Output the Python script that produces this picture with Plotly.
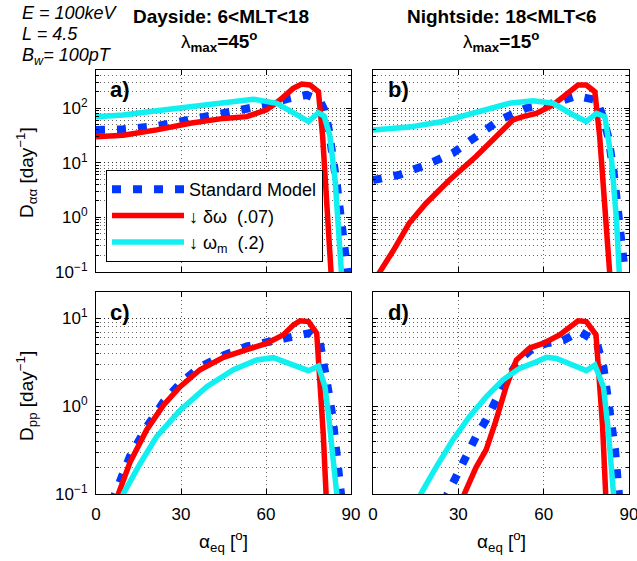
import plotly.graph_objects as go

W, H = 637, 561
FONT = "Liberation Sans, Arial, Helvetica, sans-serif"

# ---------------- data (alpha_eq in degrees, diffusion coefficient in 1/day) -------------
# Panel a) Dayside D_aa
alpha_a_std = [0, 9.6, 21.4, 33.2, 45, 53.2, 60.2, 68.5, 74.4, 79, 80.5, 82, 83.5, 85, 86.5, 88, 89.5]
Daa_a_std   = [40, 41, 47, 61, 80, 100, 115, 152, 175, 140, 95, 45, 15, 4, 0.9, 0.22, 0.05]
alpha_a_dw  = [0, 9.6, 21.4, 33.2, 45, 53.2, 60.2, 64.9, 69.6, 72.6, 75.5, 78.5, 80.0, 81.4, 82.8, 83.3]
Daa_a_dw    = [30, 32, 40, 53, 65, 70, 93, 141, 231, 277, 266, 200, 30, 1.8, 0.095, 0.05]
alpha_a_wm  = [0, 9.6, 21.4, 33.2, 45, 55.5, 63.8, 70.8, 75, 78.5, 80.5, 82.5, 84.4, 85.6, 86.4, 87]
Daa_a_wm    = [70, 75, 90, 107, 131, 146, 123, 75, 57, 82, 72, 32, 4.8, 0.59, 0.095, 0.05]

# Panel b) Nightside D_aa
alpha_b_std = [0, 9.2, 18.6, 28, 36.2, 44.5, 53.9, 63.3, 71.5, 78.6, 80.4, 82.7, 84.5, 86.2, 87.4, 89]
Daa_b_std   = [4.8, 6.0, 9.1, 15, 30, 61, 100, 123, 167, 141, 80, 30, 7.4, 1.37, 0.39, 0.06]
alpha_b_dw  = [1.5, 2.1, 7.2, 12.7, 18.6, 26.8, 36.2, 43.3, 49.2, 52.7, 57.4, 63.3, 68, 72.1, 75, 78, 79.7, 81.5, 83.1, 83.5]
Daa_b_dw    = [0.07, 0.095, 0.25, 0.78, 1.8, 4.8, 13, 30, 61, 70, 80, 115, 187, 266, 266, 200, 30, 1.8, 0.095, 0.06]
alpha_b_wm  = [0, 12.7, 24.5, 36.2, 48, 56.2, 63.3, 70.4, 75, 78.6, 81.5, 83.9, 85.6, 86.6, 87.2]
Daa_b_wm    = [40, 45, 57, 86, 123, 137, 123, 75, 57, 80, 70, 11, 0.9, 0.095, 0.05]

# Panel c) Dayside D_pp
alpha_c_std = [6.3, 6.7, 12, 17.9, 23.8, 29.7, 36.7, 45, 53.2, 60.2, 68.5, 75.5, 79, 80.5, 82, 83.5, 85, 86.5, 87]
Dpp_c_std   = [0.08, 0.1, 0.27, 0.58, 1.12, 1.82, 2.8, 3.8, 4.8, 5.4, 5.9, 6.8, 5.4, 3.2, 1.5, 0.75, 0.3, 0.1, 0.07]
alpha_c_dw  = [7.5, 7.9, 12, 17.9, 23.8, 29.7, 36.7, 45, 53.2, 60.2, 66.1, 69.6, 72, 75, 77.9, 79.1, 80.2, 81.2, 81.5]
Dpp_c_dw    = [0.08, 0.1, 0.23, 0.54, 1.03, 1.67, 2.6, 3.6, 4.4, 5.2, 6.5, 8.4, 9.4, 9.2, 6.8, 2.0, 0.49, 0.1, 0.07]
alpha_c_wm  = [9.2, 9.6, 15.5, 21.4, 29.7, 39.1, 48.5, 56.7, 62.6, 68.5, 75, 78.5, 80.8, 82, 83.2, 84.4, 85, 85.3]
Dpp_c_wm    = [0.08, 0.1, 0.22, 0.45, 0.9, 1.67, 2.6, 3.36, 3.57, 3.08, 2.54, 2.87, 1.67, 0.83, 0.35, 0.145, 0.1, 0.08]

# Panel d) Nightside D_pp
alpha_d_std = [25.8, 26.2, 29.2, 32.7, 36.2, 39.8, 43.3, 46.8, 51.5, 56.2, 60.9, 66.8, 72.7, 78.6, 81, 83.3, 85.1, 86.2, 87]
Dpp_d_std   = [0.08, 0.1, 0.157, 0.27, 0.45, 0.7, 1.18, 2.0, 3.36, 4.6, 5.2, 5.6, 7.1, 5.4, 2.8, 0.9, 0.32, 0.12, 0.07]
alpha_d_dw  = [31.8, 32.1, 36.2, 39.8, 43.3, 46.8, 50.4, 55.1, 59.8, 65.6, 72.1, 75, 78.4, 79.5, 80.7, 81.8, 82]
Dpp_d_dw    = [0.08, 0.1, 0.2, 0.32, 0.7, 1.67, 3.36, 4.6, 5.2, 6.5, 9.4, 9.2, 6.5, 2.5, 0.6, 0.1, 0.08]
alpha_d_wm  = [16.4, 16.8, 22.1, 28, 33.9, 39.8, 45.7, 51.5, 57.4, 60.9, 64.5, 70.4, 75, 78, 81, 82.7, 84.5, 84.8]
Dpp_d_wm    = [0.08, 0.1, 0.2, 0.41, 0.76, 1.28, 2.0, 2.7, 3.2, 3.6, 3.5, 2.94, 2.54, 2.94, 1.67, 0.54, 0.1, 0.08]

series_names = ["Standard Model", "↓ δω&nbsp; (.07)", "↓ ω<sub>m</sub>&nbsp; (.2)"]
x_ticks = [0, 30, 60, 90]
x_ticktext = ["0", "30", "60", "90"]
y_ticks = [0.1, 1, 10, 100]
y_ticktext = ["10<sup>−1</sup>", "10<sup>0</sup>", "10<sup>1</sup>", "10<sup>2</sup>"]

# ---------------- styles ----------------
BLUE, RED, CYAN = "#0038ff", "#ff0000", "#10f0f0"
styles = [
    dict(color=BLUE, width=8, dash="9px,12px"),
    dict(color=RED, width=5.5, dash="solid"),
    dict(color=CYAN, width=5.5, dash="solid"),
]

panels = [
    ("x", "y", [(alpha_a_std, Daa_a_std), (alpha_a_dw, Daa_a_dw), (alpha_a_wm, Daa_a_wm)]),
    ("x2", "y2", [(alpha_b_std, Daa_b_std), (alpha_b_dw, Daa_b_dw), (alpha_b_wm, Daa_b_wm)]),
    ("x3", "y3", [(alpha_c_std, Dpp_c_std), (alpha_c_dw, Dpp_c_dw), (alpha_c_wm, Dpp_c_wm)]),
    ("x4", "y4", [(alpha_d_std, Dpp_d_std), (alpha_d_dw, Dpp_d_dw), (alpha_d_wm, Dpp_d_wm)]),
]

fig = go.Figure()
for pi, (xa, ya, data) in enumerate(panels):
    for si, (xs, ys) in enumerate(data):
        fig.add_trace(go.Scatter(
            x=xs, y=ys, xaxis=xa, yaxis=ya, mode="lines",
            line=styles[si], name=series_names[si],
            showlegend=(pi == 0), legendgroup=str(si),
        ))

def px(x):
    return x / W

def py(y):
    return 1 - y / H

GRID = "rgba(0,0,0,0.6)"
GDASH = "1px,3px"

def xaxis(dom, anchor, labels):
    return dict(domain=dom, anchor=anchor, range=[0, 90], tickmode="array",
                tickvals=x_ticks, ticktext=x_ticktext, showticklabels=labels,
                ticks="inside", ticklen=5, tickcolor="black", automargin=False,
                showline=True, linecolor="black", linewidth=1, mirror="allticks",
                showgrid=True, gridcolor=GRID, griddash=GDASH, gridwidth=1,
                zeroline=False, ticklabelstandoff=5, ticklabeloverflow="allow",
                tickfont=dict(size=17, color="black", family=FONT))

def yaxis(dom, anchor, top, labels):
    return dict(domain=dom, anchor=anchor, type="log", range=[-1, top], tickmode="array",
                tickvals=y_ticks, ticktext=y_ticktext, showticklabels=labels,
                ticks="inside", ticklen=5, tickcolor="black", automargin=False,
                showline=True, linecolor="black", linewidth=1, mirror="allticks",
                showgrid=True, gridcolor=GRID, griddash=GDASH, gridwidth=1,
                minor=dict(dtick="D1", ticks="inside", ticklen=3, tickcolor="black",
                           showgrid=True, gridcolor=GRID, griddash=GDASH, gridwidth=1),
                zeroline=False, ticklabelstandoff=4, ticklabeloverflow="allow",
                tickfont=dict(size=17, color="black", family=FONT))

xl, xr = [px(96), px(351)], [px(373), px(629)]
yt, yb = [py(272), py(70)], [py(494), py(292)]

fig.update_layout(
    width=W, height=H, margin=dict(l=0, r=0, t=0, b=0),
    paper_bgcolor="white", plot_bgcolor="white",
    font=dict(family=FONT, color="black"),
    xaxis=xaxis(xl, "y", False), yaxis=yaxis(yt, "x", 2.699, True),
    xaxis2=xaxis(xr, "y2", False), yaxis2=yaxis(yt, "x2", 2.699, False),
    xaxis3=xaxis(xl, "y3", True), yaxis3=yaxis(yb, "x3", 1.301, True),
    xaxis4=xaxis(xr, "y4", True), yaxis4=yaxis(yb, "x4", 1.301, False),
    legend=dict(x=px(106), y=py(170), xanchor="left", yanchor="top",
                bgcolor="white", bordercolor="black", borderwidth=1,
                font=dict(size=18, family=FONT, color="black"),
                itemwidth=72, tracegroupgap=0),
)

ann = []
def add(text, x, y, size, xanchor="center", angle=0, yanchor="middle"):
    ann.append(dict(text=text, x=px(x), y=py(y), xref="paper", yref="paper",
                    xanchor=xanchor, yanchor=yanchor, showarrow=False, textangle=angle,
                    font=dict(size=size, family=FONT, color="black")))

add("<i>E = 100keV</i>", 20, 13, 18, "left")
add("<i>L = 4.5</i>", 20, 34, 18, "left")
add("<i>B<sub>w</sub>= 100pT</i>", 20, 56, 18, "left")
add("<b>Dayside: 6&lt;MLT&lt;18</b>", 221, 17, 19)
add("λ<b><sub>max</sub>=45<sup>o</sup></b>", 219, 41, 19)
add("<b>Nightside: 18&lt;MLT&lt;6</b>", 502, 17, 19)
add("λ<b><sub>max</sub>=15<sup>o</sup></b>", 501, 41, 19)
add("<b>a)</b>", 108, 89, 22, "left")
add("<b>b)</b>", 386, 89, 22, "left")
add("<b>c)</b>", 108, 312, 22, "left")
add("<b>d)</b>", 386, 312, 22, "left")
add("D<sub>αα</sub> [day<sup>−1</sup>]", 26, 172, 19, angle=-90)
add("D<sub>pp</sub> [day<sup>−1</sup>]", 26, 396, 19, angle=-90)
add("α<sub>eq</sub> [<sup>o</sup>]", 223, 541, 19)
add("α<sub>eq</sub> [<sup>o</sup>]", 501, 541, 19)
fig.update_layout(annotations=ann)

fig.write_html("out.html", config={"displayModeBar": False},
               post_script="document.body.style.margin='0px';document.body.style.overflow='hidden';")
